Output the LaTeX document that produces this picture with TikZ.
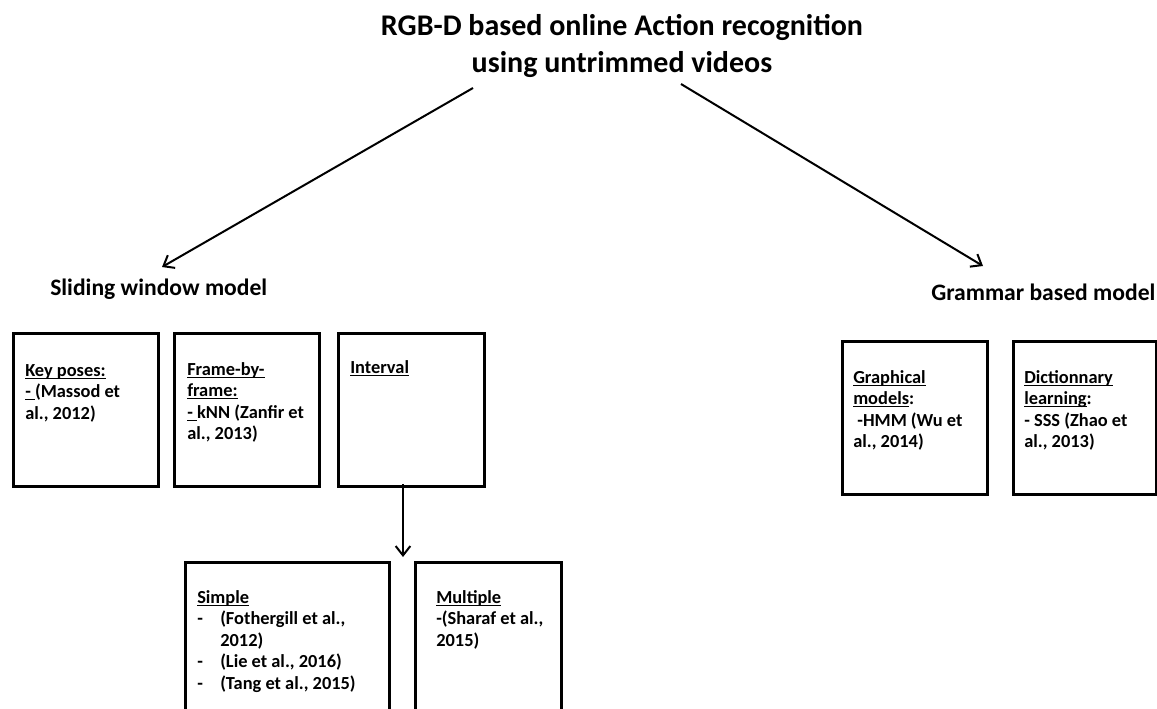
\documentclass[tikz,border=0pt]{standalone}
\usepackage{fontspec}
\setmainfont{Carlito}
\usetikzlibrary{arrows.meta}
\newcommand{\myul}[1]{\underline{\smash{#1}}}
\newcommand{\lns}[1]{\vtop{\halign{##\hfil\cr#1\crcr}}}
\newcommand{\clns}[1]{\vtop{\halign{\hfil##\hfil\cr#1\crcr}}}
\newcommand{\hang}{\makebox[17.25pt][l]{-}}
\tikzset{
  boxs/.style={draw=black, line width=2.25pt, inner sep=0pt, anchor=north west},
  boxtext/.style={inner sep=0pt, anchor=base west,
    font=\fontsize{13.8}{16.2}\selectfont\bfseries},
  header/.style={inner sep=0pt, anchor=base west, font=\fontsize{17.7}{21}\selectfont\bfseries},
  conn/.style={line width=1.5pt, -{Straight Barb[length=7pt,width=11pt,line width=1.5pt]}}
}
\begin{document}
\begin{tikzpicture}[x=0.75pt,y=-0.75pt]
\useasboundingbox (0,0) rectangle (1157,708);
\clip (0,0) rectangle (1157,708);
\fill[white] (0,0) rectangle (1157,708);
% title
\node[inner sep=0pt, anchor=base, font=\fontsize{22.5}{27.75}\selectfont\bfseries]
  (title) at (622,35) {\clns{RGB-D based online Action recognition\cr using untrimmed videos}};
\coordinate (tl) at (473,88);
\coordinate (tr) at (681,84);
% headers
\node[header] (sliding) at (50,295) {Sliding window model};
\node[header] (grammar) at (931,300) {Grammar based model};
\coordinate (sl) at (162,267);
\coordinate (gr) at (983,266);
\draw[conn] (tl) -- (sl);
\draw[conn] (tr) -- (gr);
% sliding boxes
\node[boxs, minimum width=108.75pt, minimum height=114.75pt] (b1) at (12,332) {};
\node[boxs, minimum width=108.75pt, minimum height=114.75pt] (b2) at (173,332) {};
\node[boxs, minimum width=109.5pt, minimum height=114.75pt] (b3) at (337,332) {};
\node[boxtext] (t1) at (25,376) {\lns{\myul{Key poses:}\cr\myul{-\ }(Massod et\cr al., 2012)}};
\node[boxtext] (t2) at (187,375) {\lns{\myul{Frame-by-}\cr\myul{frame:}\cr\myul{-\ }kNN (Zanfir et\cr al., 2013)}};
\node[boxtext] (t3) at (350,373) {\lns{\myul{Interval}}};
% lower boxes
\node[boxs, minimum width=153pt, minimum height=125pt] (b4) at (184,561) {};
\node[boxs, minimum width=109.5pt, minimum height=125pt] (b5) at (414,561) {};
\node[boxtext] (t4) at (197,603) {\lns{\myul{Simple}\cr\hang(Fothergill et al.,\cr\hspace*{17.25pt}2012)\cr\hang(Lie et al., 2016)\cr\hang(Tang et al., 2015)}};
\node[boxtext] (t5) at (436,603) {\lns{\myul{Multiple}\cr -(Sharaf et al.,\cr 2015)}};
\coordinate (ia) at (403,484);
\coordinate (ib) at (403,557);
\draw[conn] (ia) -- (ib);
% grammar boxes
\node[boxs, minimum width=108.75pt, minimum height=114.75pt] (b6) at (841,340) {};
\node[boxs, minimum width=107.25pt, minimum height=114.75pt] (b7) at (1012,340) {};
\node[boxtext] (t6) at (853,383) {\lns{\myul{Graphical}\cr\myul{models}:\cr\ -HMM (Wu et\cr al., 2014)}};
\node[boxtext] (t7) at (1024,383) {\lns{\myul{Dictionnary}\cr\myul{learning}:\cr - SSS (Zhao et\cr al., 2013)}};
\end{tikzpicture}
\end{document}
